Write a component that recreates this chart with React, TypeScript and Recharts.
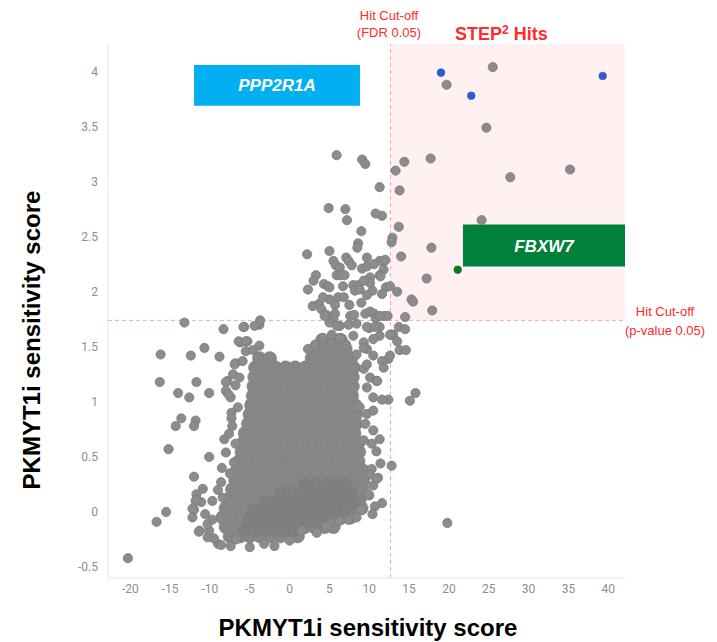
import React from 'react'
import { ScatterChart, Scatter, XAxis, YAxis, ReferenceArea, ReferenceLine } from 'recharts'

type Pt = [number, number]

const xTicks = [-20, -15, -10, -5, 0, 5, 10, 15, 20, 25, 30, 35, 40]
const yTicks = [-0.5, 0, 0.5, 1, 1.5, 2, 2.5, 3, 3.5, 4]
const xDomain = [-22.8, 42.1]
const yDomain = [-0.6, 4.25]

const fdrCutoff = 12.66
const pCutoff = 1.74

// highlighted genes
const blueHits: Pt[] = [[19.0, 3.99], [22.8, 3.78], [39.3, 3.96]]
const greenHit: Pt[] = [[21.1, 2.2]]

// scattered grey genes (outside the dense core)
const hitRegion: Pt[] = [
  [25.5, 4.04], [19.7, 3.88], [24.7, 3.49], [17.7, 3.21], [14.4, 3.18], [13.3, 3.1], [35.2, 3.11],
  [27.7, 3.04], [13.8, 2.92], [24.1, 2.65], [13.7, 2.59], [12.9, 2.49], [12.8, 2.45], [17.8, 2.4],
  [14.0, 2.32], [17.2, 2.12], [13.5, 2.0], [15.3, 1.93], [15.5, 1.91], [17.9, 1.83], [14.5, 1.77],
]
const nearCutoff: Pt[] = [
  [11.3, 2.95], [11.6, 2.69], [11.9, 2.28], [11.3, 2.28], [11.8, 2.2], [11.3, 2.15], [12.1, 2.04],
  [12.6, 2.05], [11.9, 1.78], [12.3, 1.78], [13.7, 1.68], [14.5, 1.66], [13.0, 1.61], [12.8, 1.61],
  [13.5, 1.55], [13.8, 1.47], [14.6, 1.47], [12.4, 1.39], [12.4, 1.02], [15.8, 1.08], [15.1, 1.01],
  [12.8, 0.42], [19.8, -0.1],
]
const upperCluster: Pt[] = [
  [5.9, 3.24], [9.1, 3.2], [9.5, 3.16], [4.9, 2.76], [7.0, 2.75], [7.2, 2.65], [10.8, 2.71],
  [9.0, 2.55], [8.6, 2.44], [8.5, 2.4], [2.2, 2.34], [5.0, 2.37], [9.7, 2.31], [7.1, 2.31],
  [7.4, 2.28], [7.8, 2.24], [5.5, 2.28], [5.8, 2.24], [6.3, 2.22], [12.0, 2.29], [9.1, 2.21],
  [9.7, 2.23], [3.3, 2.15], [5.9, 2.15], [6.4, 2.15], [6.9, 2.15], [10.1, 2.13], [11.4, 2.14],
  [2.3, 2.02], [4.3, 2.07], [4.8, 2.05], [5.0, 2.04], [6.7, 2.05], [8.0, 2.06], [8.6, 2.06],
  [8.2, 2.01], [8.8, 2.02], [10.1, 2.08], [10.4, 2.01], [11.6, 1.98], [9.7, 1.97], [5.0, 1.93],
  [5.7, 1.88], [6.1, 1.95], [6.8, 1.95], [2.9, 1.87], [3.7, 1.89], [4.0, 1.84], [9.0, 1.9],
  [4.6, 1.79], [5.7, 1.8], [5.5, 1.75], [7.6, 1.78], [8.1, 1.79], [9.5, 1.8], [10.1, 1.82],
  [10.6, 1.8], [10.8, 1.76], [11.3, 1.78], [5.0, 1.72], [6.3, 1.69], [7.4, 1.7], [8.4, 1.71],
  [10.0, 1.67], [11.3, 1.68], [4.4, 1.78], [3.0, 2.1], [7.5, 1.88], [9.3, 2.1], [10.6, 2.25],
  [4.2, 1.95],
]
const cloudEdge: Pt[] = [
  [-3.8, 1.7], [-3.7, 1.74], [-5.7, 1.68], [-4.4, 1.69], [-6.2, 1.54], [-5.3, 1.55], [-3.8, 1.51],
  [-5.5, 1.46], [-4.6, 1.47], [-6.8, 1.35], [-5.9, 1.37], [-7.8, 1.19], [-8.0, 1.1], [-7.4, 1.04],
  [2.3, 1.48], [3.2, 1.52], [4.2, 1.58], [5.3, 1.61], [6.3, 1.58], [7.1, 1.52], [8.0, 1.6],
  [5.9, 1.69], [9.7, 1.68], [10.7, 1.68], [11.3, 1.6], [12.6, 1.61], [10.5, 1.57], [9.3, 1.54],
  [9.7, 1.48], [8.4, 1.43], [9.3, 1.49], [10.5, 1.42], [11.6, 1.37], [12.6, 1.42],
  [9.3, 1.3], [10.1, 1.22], [9.7, 1.34], [10.9, 1.19], [11.6, 1.02], [10.5, 1.04], [9.7, 1.13],
  [8.8, 0.95], [9.7, 0.89], [10.5, 0.92], [9.5, 0.8], [10.5, 0.74], [11.3, 0.66], [10.3, 0.62],
  [9.3, 0.65], [11.8, 1.31], [11.0, 1.19], [10.9, 0.55], [11.4, 0.44], [11.1, 0.31], [10.5, 0.24],
  [10.0, 0.15], [11.6, 0.08], [10.7, 0.05], [10.4, -0.02], [10.3, 0.39], [10.1, 0.34], [10.9, 0.3],
  [9.9, 0.16], [8.4, -0.05], [9.0, 0.02],
  [-8.6, 0.27], [-8.2, 0.66], [-8.0, 0.54], [-7.3, 0.9], [-7.3, 0.85], [-7.6, 0.71], [-8.0, 1.18],
  [-7.7, 1.07], [-6.9, 1.34], [-6.4, 1.55], [-5.5, 1.55], [-7.0, 0.45], [-7.5, 0.35], [-6.8, 0.62],
  [-7.2, 0.78], [-6.5, 0.95], [-6.8, 1.15], [-7.1, 1.25], [-6.3, 1.22], [-8.5, 0.4], [-9.0, 0.2],
  [-11.1, 0.09], [-10.6, -0.02], [-9.7, -0.07], [-10.1, -0.17], [-9.0, -0.29], [-7.4, -0.31],
  [-6.7, -0.25], [-9.5, -0.24], [-9.7, 0.1], [-8.4, 0.13], [-10.3, -0.11], [-1.9, -0.31],
  [-3.2, -0.29], [-5.0, -0.32], [-8.6, -0.3], [-10.3, -0.23], [-11.3, -0.17], [-12.2, -0.05],
  [-12.0, 0.02], [-11.8, 0.1], [0.0, -0.26], [1.5, -0.17], [3.4, -0.19], [4.6, -0.13],
  [6.3, -0.08], [7.4, -0.07],
]
const leftScatter: Pt[] = [
  [-13.2, 1.72], [-8.3, 1.66], [-5.8, 1.68], [-16.2, 1.43], [-12.4, 1.42], [-10.7, 1.49],
  [-8.8, 1.41], [-16.3, 1.18], [-11.7, 1.18], [-14.0, 1.08], [-12.6, 1.04], [-10.1, 1.08],
  [-13.6, 0.85], [-14.3, 0.78], [-11.8, 0.83], [-12.0, 0.78], [-15.2, 0.57], [-10.1, 0.5],
  [-12.0, 0.32], [-11.7, 0.16], [-11.7, 0.11], [-10.9, 0.21], [-12.2, 0.03], [-15.5, 0.0],
  [-16.7, -0.09], [-11.4, -0.18], [-20.3, -0.42],
]

// dense core, one row per y value: [y, x1, x2, ...]
const coreRows: number[][] = [
  [-0.22, -7.5, -6.2, -5.0, -3.7, -2.5, -1.2, 0.0, 1.0],
  [-0.135, -8.0, -6.8, -5.6, -4.3, -3.1, -1.8, -0.6, 0.7, 1.9, 3.1, 4.4, 5.5],
  [-0.05, -8.4, -7.3, -6.0, -4.8, -3.5, -2.3, -1.0, 0.2, 1.5, 2.7, 4.0, 5.2, 6.5, 7.6],
  [0.035, -8.0, -6.7, -5.4, -4.2, -2.9, -1.7, -0.4, 0.8, 2.1, 3.3, 4.6, 5.8, 7.1, 8.3, 9.0],
  [0.12, -7.5, -6.2, -4.9, -3.7, -2.4, -1.2, 0.1, 1.3, 2.6, 3.8, 5.1, 6.3, 7.6, 8.8],
  [0.205, -7.2, -5.9, -4.6, -3.4, -2.1, -0.9, 0.4, 1.6, 2.9, 4.1, 5.4, 6.6, 7.9, 9.1],
  [0.29, -6.8, -5.5, -4.3, -3.0, -1.8, -0.5, 0.7, 2.0, 3.2, 4.5, 5.7, 7.0, 8.2, 9.2],
  [0.375, -6.6, -5.3, -4.1, -2.8, -1.6, -0.3, 0.9, 2.2, 3.4, 4.7, 5.9, 7.2, 8.4, 9.2],
  [0.46, -6.3, -5.0, -3.8, -2.5, -1.3, 0.0, 1.2, 2.5, 3.7, 5.0, 6.2, 7.5, 8.6],
  [0.545, -6.0, -4.8, -3.5, -2.3, -1.0, 0.2, 1.5, 2.7, 4.0, 5.2, 6.5, 7.7, 8.7],
  [0.63, -5.8, -4.5, -3.3, -2.0, -0.8, 0.5, 1.7, 3.0, 4.2, 5.5, 6.7, 8.0, 8.6],
  [0.715, -5.6, -4.3, -3.1, -1.8, -0.6, 0.7, 1.9, 3.2, 4.4, 5.7, 6.9, 8.1],
  [0.8, -5.2, -4.0, -2.7, -1.5, -0.2, 1.0, 2.3, 3.5, 4.8, 6.0, 7.3, 8.3],
  [0.885, -5.0, -3.8, -2.5, -1.3, 0.0, 1.2, 2.5, 3.7, 5.0, 6.2, 7.5, 8.3],
  [0.97, -4.8, -3.5, -2.3, -1.0, 0.2, 1.5, 2.7, 4.0, 5.2, 6.5, 7.6, 8.2],
  [1.055, -4.6, -3.3, -2.1, -0.8, 0.4, 1.7, 2.9, 4.2, 5.4, 6.7, 7.8],
  [1.14, -4.5, -3.2, -2.0, -0.7, 0.5, 1.8, 3.0, 4.3, 5.5, 6.8, 7.9],
  [1.225, -4.4, -3.1, -1.9, -0.6, 0.6, 1.9, 3.1, 4.4, 5.6, 6.9, 7.9],
  [1.31, -4.3, -3.0, -1.8, -0.5, 0.7, 2.0, 3.2, 4.5, 5.7, 7.0, 8.0],
  [1.395, -3.8, -2.5, 2.8, 4.0, 5.3, 6.5, 7.7],
  [1.48, 3.2, 4.5, 5.7, 7.0],
  [1.56, 4.1, 5.4, 6.4],
]

// darker, most crowded band at the bottom of the core
const bandRows: number[][] = [
  [-0.16, -5.5, -4.3, -3.0, -1.8, -0.5, 0.7],
  [-0.08, -5.0, -3.7, -2.5, -1.2, 0.0, 1.3, 2.5, 3.8],
  [0.0, -4.5, -3.2, -2.0, -0.7, 0.5, 1.8, 3.0, 4.3, 5.5, 6.6],
  [0.08, -3.0, -1.7, -0.5, 0.8, 2.0, 3.3, 4.5, 5.8, 7.0, 8.0],
  [0.16, -1.0, 0.3, 1.5, 2.8, 4.0, 5.3, 6.5, 7.6],
  [0.24, 2.0, 3.3, 4.5, 5.8, 7.0],
]

const toXY = (pts: Pt[]) => pts.map(([x, y]) => ({ x, y }))
const rowsToXY = (rows: number[][]) =>
  rows.flatMap(([y, ...xs]) => xs.map(x => ({ x, y })))

const greyPoints = toXY([...hitRegion, ...nearCutoff, ...upperCluster, ...cloudEdge, ...leftScatter])

const dot = (r: number, fill: string, stroke: string, sw = 0.8) => (p: any) =>
  <circle cx={p.cx} cy={p.cy} r={r} fill={fill} stroke={stroke} strokeWidth={sw} />

const red = '#ff2b2b'
const sans = '"Liberation Sans", Arial, sans-serif'

export default function App() {
  return (
    <div style={{ position: 'absolute', left: 0, top: 0, width: 717, height: 642, background: '#fff' }}>
      <ScatterChart width={717} height={642} margin={{ top: 44, right: 92, bottom: 34, left: 58 }}>
        <ReferenceArea x1={fdrCutoff} x2={xDomain[1]} y1={pCutoff} y2={yDomain[1]} fill="#fff0f1" fillOpacity={1} stroke="none" />
        <XAxis
          type="number" dataKey="x" domain={xDomain} ticks={xTicks} allowDataOverflow
          height={30} tickLine={false} tickSize={4} axisLine={{ stroke: '#e4e4ec' }}
          tick={{ fill: '#8e8e8e', fontSize: 12, fontFamily: 'Roboto' }}
        />
        <YAxis
          type="number" dataKey="y" domain={yDomain} ticks={yTicks} allowDataOverflow
          width={50} tickLine={false} tickSize={8} axisLine={{ stroke: '#e4e4ec' }}
          tick={{ fill: '#8e8e8e', fontSize: 12, fontFamily: 'Roboto' }}
        />
        <Scatter data={rowsToXY(coreRows)} isAnimationActive={false} shape={dot(6.9, '#878787', '#7f7f7f', 0.5)} />
        <Scatter data={rowsToXY(bandRows)} isAnimationActive={false} shape={dot(6.9, '#7f7f7f', '#787878', 0.5)} />
        <Scatter data={greyPoints} isAnimationActive={false} shape={dot(4.6, '#8c8c8c', '#7b7b7b')} />
        <Scatter data={toXY(blueHits)} isAnimationActive={false} shape={dot(3.8, '#3358d0', '#3358d0')} />
        <Scatter data={toXY(greenHit)} isAnimationActive={false} shape={dot(3.8, '#0b7a20', '#0b7a20')} />
        <ReferenceLine x={fdrCutoff} stroke="#f7a3a3" strokeDasharray="4 3" />
        <ReferenceLine y={pCutoff} stroke="#f7a3a3" strokeDasharray="4 3" />
        <ReferenceArea
          x1={-12.0} x2={8.83} y1={3.69} y2={4.06} fill="#00b0f0" fillOpacity={1} stroke="none"
          label={{ value: 'PPP2R1A', position: 'center', fill: '#fff', fontSize: 17, fontWeight: 'bold', fontStyle: 'italic', fontFamily: sans }}
        />
        <ReferenceArea
          x1={21.76} x2={42.1} y1={2.23} y2={2.61} fill="#00803a" fillOpacity={1} stroke="none"
          label={{ value: 'FBXW7', position: 'center', fill: '#fff', fontSize: 17, fontWeight: 'bold', fontStyle: 'italic', fontFamily: sans }}
        />
      </ScatterChart>
      <svg width={717} height={642} style={{ position: 'absolute', left: 0, top: 0, pointerEvents: 'none' }}>
        <g fontFamily={sans} fill={red} fontSize={13} textAnchor="middle">
          <text x={389} y={20}>Hit Cut-off</text>
          <text x={389} y={37}>(FDR 0.05)</text>
          <text x={665} y={316}>Hit Cut-off</text>
          <text x={665} y={335}>(p-value 0.05)</text>
        </g>
        <text x={455} y={40} fontFamily={sans} fill={red} fontSize={18} fontWeight="bold">
          STEP<tspan fontSize={12} dy={-6}>2</tspan><tspan dy={6}> Hits</tspan>
        </text>
        <g fontFamily={sans} fill="#000" fontSize={24} fontWeight="bold" textAnchor="middle">
          <text x={368} y={636}>PKMYT1i sensitivity score</text>
          <text x={40} y={340} transform="rotate(-90 40 340)">PKMYT1i sensitivity score</text>
        </g>
      </svg>
    </div>
  )
}
